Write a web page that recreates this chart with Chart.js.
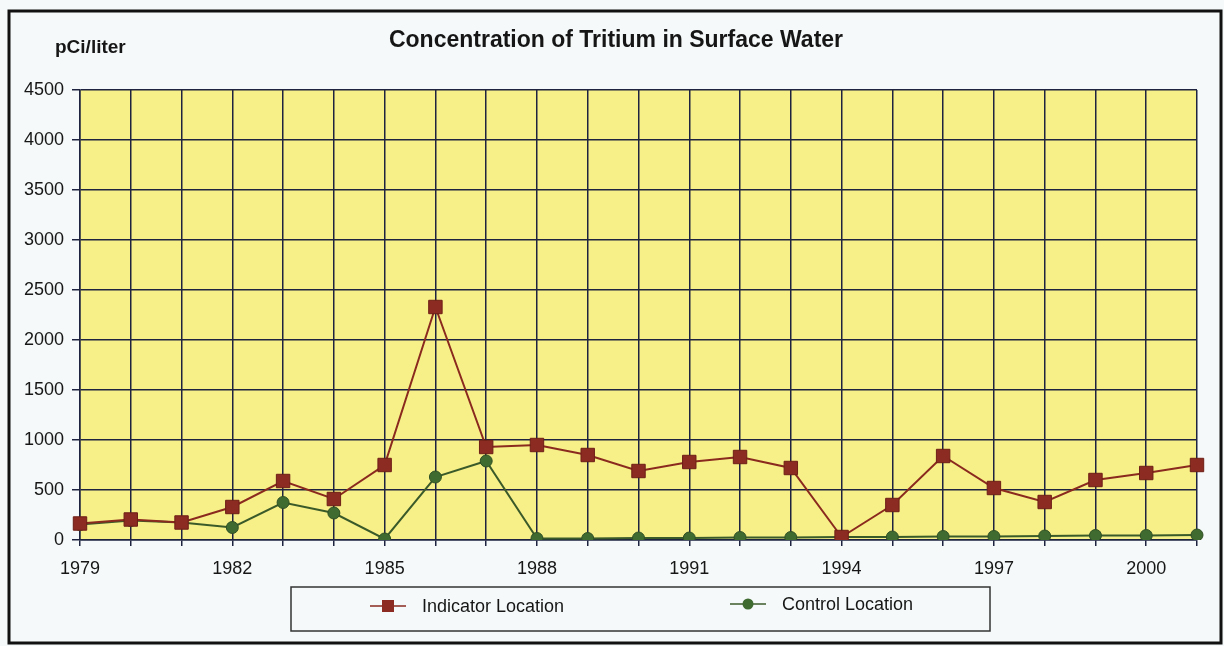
<!DOCTYPE html>
<html>
<head>
<meta charset="utf-8">
<title>Concentration of Tritium in Surface Water</title>
<script src="https://cdn.jsdelivr.net/npm/chart.js@4/dist/chart.umd.min.js"></script>
<style>
  html, body { margin: 0; padding: 0; background: #f5f9f9; }
  #wrap { position: relative; width: 1224px; height: 646px; }
</style>
</head>
<body>
<div id="wrap"><canvas id="tritiumChart" width="1224" height="646"></canvas></div>
<script>
// Years on the x axis, labelled every third year
var years = ['1979', '1980', '1981', '1982', '1983', '1984', '1985', '1986', '1987', '1988', '1989',
    '1990', '1991', '1992', '1993', '1994', '1995', '1996', '1997', '1998', '1999', '2000', '2001'];

// pCi/liter
var indicatorValues = [165, 205, 175, 330, 590, 410, 750, 2330, 930, 950, 850,
    690, 780, 830, 720, 30, 350, 840, 520, 380, 600, 670, 750];
var controlValues = [155, 195, 175, 125, 375, 270, 10, 630, 790, 15, 15,
    20, 20, 25, 25, 30, 30, 35, 35, 40, 45, 45, 50];

var yTicks = [0, 500, 1000, 1500, 2000, 2500, 3000, 3500, 4000, 4500];

var FONT = '"Liberation Sans", Arial, sans-serif';
var INK = '#161616';
var GRID = '#1e2440';

// yellow plot area, outer frame, titles and the boxed legend
var decor = {
    id: 'decor',
    beforeDraw: function (chart) {
        var ctx = chart.ctx;
        var a = chart.chartArea;
        ctx.save();
        ctx.fillStyle = '#f7ef88';
        ctx.fillRect(a.left, a.top, a.right - a.left, a.bottom - a.top);
        ctx.restore();
    },
    afterDraw: function (chart) {
        var ctx = chart.ctx;
        ctx.save();
        // outer frame
        ctx.strokeStyle = '#111';
        ctx.lineWidth = 3;
        ctx.strokeRect(9, 11, 1212, 632);

        ctx.fillStyle = INK;
        ctx.font = 'bold 23px ' + FONT;
        ctx.textAlign = 'center';
        ctx.textBaseline = 'middle';
        ctx.fillText('Concentration of Tritium in Surface Water', 616, 41);

        ctx.font = 'bold 19px ' + FONT;
        ctx.textAlign = 'left';
        ctx.fillText('pCi/liter', 55, 48);

        // legend box
        ctx.strokeStyle = '#333';
        ctx.lineWidth = 1.5;
        ctx.strokeRect(291, 587, 699, 44);

        var items = [{ x: 388, y: 606 }, { x: 748, y: 604 }];
        ctx.font = '18px ' + FONT;
        chart.data.datasets.forEach(function (ds, i) {
            var it = items[i];
            ctx.strokeStyle = ds.borderColor;
            ctx.lineWidth = 1.5;
            ctx.beginPath();
            ctx.moveTo(it.x - 18, it.y);
            ctx.lineTo(it.x + 18, it.y);
            ctx.stroke();
            ctx.fillStyle = ds.pointBackgroundColor;
            if (ds.pointStyle === 'rect') {
                ctx.fillRect(it.x - 6, it.y - 6, 12, 12);
            } else {
                ctx.beginPath();
                ctx.arc(it.x, it.y, 5.5, 0, Math.PI * 2);
                ctx.fill();
            }
            ctx.fillStyle = INK;
            ctx.fillText(ds.label, it.x + 34, it.y + 1);
        });
        ctx.restore();
    }
};

new Chart(document.getElementById('tritiumChart'), {
    type: 'line',
    data: {
        labels: years,
        datasets: [{
            label: 'Indicator Location',
            data: indicatorValues,
            borderColor: '#8a2a1e',
            borderWidth: 2,
            pointStyle: 'rect',
            pointRadius: 9.5,
            pointBackgroundColor: '#8c2b22',
            pointBorderColor: '#6e1f16',
            pointBorderWidth: 1,
            tension: 0,
        }, {
            label: 'Control Location',
            data: controlValues,
            borderColor: '#3b5a2a',
            borderWidth: 2,
            pointStyle: 'circle',
            pointRadius: 6,
            pointBackgroundColor: '#3f6a30',
            pointBorderColor: '#2f5024',
            pointBorderWidth: 1,
            tension: 0,
        }],
    },
    options: {
        responsive: false,
        animation: false,
        layout: { padding: { top: 90, right: 27, bottom: 66, left: 0 } },
        plugins: {
            legend: { display: false },
            title: { display: false },
            tooltip: { enabled: false },
        },
        scales: {
            x: {
                offset: false,
                afterFit: function (s) { s.height = 40; },
                grid: { color: GRID, lineWidth: 1.5, tickLength: 6, drawOnChartArea: true },
                border: { color: GRID, width: 1.5 },
                ticks: {
                    autoSkip: false,
                    maxRotation: 0,
                    padding: 12,
                    color: INK,
                    font: { family: FONT, size: 18 },
                    callback: function (v, i) { return i % 3 === 0 ? years[i] : ''; },
                },
            },
            y: {
                min: 0,
                max: 4500,
                afterFit: function (s) { s.width = 80; },
                afterBuildTicks: function (s) { s.ticks = yTicks.map(function (v) { return { value: v }; }); },
                grid: { color: GRID, lineWidth: 1.5, tickLength: 8 },
                border: { color: GRID, width: 1.5 },
                ticks: {
                    padding: 8,
                    color: INK,
                    font: { family: FONT, size: 18 },
                    callback: function (v) { return String(v); },
                },
            },
        },
    },
    plugins: [decor],
});
</script>
</body>
</html>
